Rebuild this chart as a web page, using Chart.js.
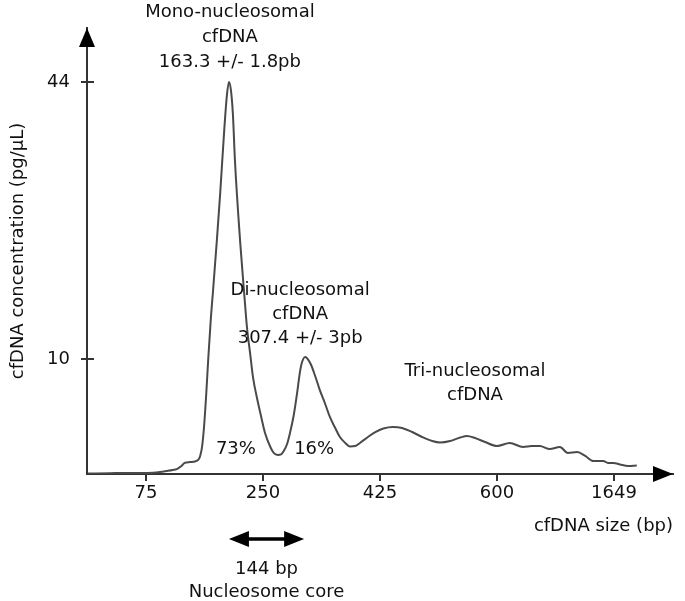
<!DOCTYPE html>
<html><head><meta charset="utf-8">
<script src="https://cdn.jsdelivr.net/npm/chart.js@4/dist/chart.umd.min.js"></script>
<style>html,body{margin:0;padding:0;background:#fff;}#wrap{width:685px;height:601px;}</style>
</head><body><div id="wrap"><canvas id="c" width="685" height="601"></canvas></div>
<script>
// ---- data ----
const sizeBp = [-12, 21, 51, 77, 96, 106, 115, 121, 127, 133, 141, 148, 153, 156, 159, 162, 165, 168, 172, 175, 181, 186, 192, 196, 199, 202, 205, 208, 216, 222, 226, 231, 235, 241, 246, 253, 261, 266, 272, 277, 281, 286, 290, 296, 301, 305, 308, 313, 317, 322, 328, 335, 343, 350, 358, 365, 373, 380, 388, 395, 407, 418, 430, 444, 458, 473, 488, 503, 515, 530, 545, 555, 567, 582, 600, 619, 639, 652, 664, 679, 694, 706, 720, 732, 744, 759, 766, 774, 784, 796, 809];
const concentration = [0.04, 0.07, 0.09, 0.09, 0.17, 0.26, 0.35, 0.43, 0.65, 0.96, 1.04, 1.09, 1.22, 1.57, 2.43, 4.26, 6.87, 9.91, 15.0, 18.1, 24.6, 30.4, 38.1, 42.4, 44.0, 43.0, 40.0, 34.4, 24.2, 17.9, 13.9, 10.5, 8.43, 6.61, 5.30, 3.57, 2.35, 1.83, 1.65, 1.70, 2.0, 2.61, 3.48, 5.13, 7.04, 8.78, 9.65, 10.25, 10.0, 9.48, 8.52, 7.30, 6.09, 4.96, 4.0, 3.22, 2.70, 2.39, 2.43, 2.70, 3.22, 3.65, 3.96, 4.09, 4.0, 3.65, 3.22, 2.87, 2.74, 2.87, 3.17, 3.30, 3.13, 2.78, 2.43, 2.70, 2.35, 2.43, 2.43, 2.17, 2.35, 1.83, 1.91, 1.57, 1.13, 1.13, 0.96, 0.96, 0.83, 0.70, 0.74];
const xTickValues = [75, 250, 425, 600, 775];
const xTickLabels = ['75', '250', '425', '600', '1649'];
const yTickValues = [10, 44];
const yTickLabels = ['10', '44'];
const xTitle = 'cfDNA size (bp)';
const yTitle = 'cfDNA concentration (pg/\u00b5L)';
const monoLabel = ['Mono-nucleosomal', 'cfDNA', '163.3 +/- 1.8pb'];
const diLabel = ['Di-nucleosomal', 'cfDNA', '307.4 +/- 3pb'];
const triLabel = ['Tri-nucleosomal', 'cfDNA'];
const shareLabels = ['73%', '16%'];
const coreLabel = ['144 bp', 'Nucleosome core'];

// ---- broken (piecewise linear) y scale as in the original figure ----
const Y_BREAK = 10, Y_TOP_TICK = 44;
const D_BREAK = 0.2578, D_TOP_TICK = 0.8789;
function valToDec(v) {
  if (v <= Y_BREAK) return v / Y_BREAK * D_BREAK;
  return D_BREAK + (v - Y_BREAK) / (Y_TOP_TICK - Y_BREAK) * (D_TOP_TICK - D_BREAK);
}
function decToVal(d) {
  if (d <= D_BREAK) return d / D_BREAK * Y_BREAK;
  return Y_BREAK + (d - D_BREAK) / (D_TOP_TICK - D_BREAK) * (Y_TOP_TICK - Y_BREAK);
}
class BrokenLinearScale extends Chart.LinearScale {
  getPixelForValue(v) { return this.getPixelForDecimal(valToDec(v)); }
  getValueForPixel(p) { return decToVal(this.getDecimalForPixel(p)); }
}
BrokenLinearScale.id = 'brokenLinear';
BrokenLinearScale.defaults = Chart.LinearScale.defaults;
Chart.register(BrokenLinearScale);

const FONT = '"DejaVu Sans", Verdana, sans-serif';
const FS = 18;
const TXT = '#111111';
const AX = '#333333';

const points = sizeBp.map((x, i) => ({x, y: concentration[i]}));
const peakIdx = concentration.indexOf(Math.max(...concentration));
const diIdx = concentration.indexOf(10.25);

const overlay = {
  id: 'overlay',
  afterDraw(chart) {
    const {ctx, chartArea: a, scales: {x, y}} = chart;
    ctx.save();
    // y ticks crossing the axis
    ctx.strokeStyle = AX; ctx.lineWidth = 2;
    yTickValues.forEach(v => {
      const py = Math.round(y.getPixelForValue(v));
      ctx.beginPath(); ctx.moveTo(a.left - 6, py); ctx.lineTo(a.left + 7, py); ctx.stroke();
    });
    // arrow heads
    ctx.fillStyle = '#000';
    ctx.beginPath(); ctx.moveTo(a.left, a.top); ctx.lineTo(a.left - 8, a.top + 19); ctx.lineTo(a.left + 8, a.top + 19); ctx.closePath(); ctx.fill();
    ctx.beginPath(); ctx.moveTo(a.right, a.bottom); ctx.lineTo(a.right - 20, a.bottom - 8); ctx.lineTo(a.right - 20, a.bottom + 8); ctx.closePath(); ctx.fill();

    // annotations
    ctx.fillStyle = TXT; ctx.font = FS + 'px ' + FONT;
    ctx.textAlign = 'center'; ctx.textBaseline = 'middle';
    const mx = x.getPixelForValue(sizeBp[peakIdx]);
    monoLabel.forEach((t, i) => ctx.fillText(t, mx + 1, 12 + i * 25));
    const dx = x.getPixelForValue(sizeBp[diIdx]);
    diLabel.forEach((t, i) => ctx.fillText(t, dx - 5, 290 + i * 24));
    triLabel.forEach((t, i) => ctx.fillText(t, 475, 371 + i * 24));
    ctx.fillText(shareLabels[0], mx + 7, 449);
    ctx.fillText(shareLabels[1], dx + 9, 449);
    // double arrow (nucleosome core span)
    const ax1 = mx, ax2 = dx - 1, ay = 539;
    ctx.strokeStyle = '#000'; ctx.lineWidth = 3.5;
    ctx.beginPath(); ctx.moveTo(ax1 + 10, ay); ctx.lineTo(ax2 - 10, ay); ctx.stroke();
    ctx.fillStyle = '#000';
    ctx.beginPath(); ctx.moveTo(ax1, ay); ctx.lineTo(ax1 + 20, ay - 8); ctx.lineTo(ax1 + 20, ay + 8); ctx.closePath(); ctx.fill();
    ctx.beginPath(); ctx.moveTo(ax2, ay); ctx.lineTo(ax2 - 20, ay - 8); ctx.lineTo(ax2 - 20, ay + 8); ctx.closePath(); ctx.fill();
    ctx.fillStyle = TXT;
    coreLabel.forEach((t, i) => ctx.fillText(t, (ax1 + ax2) / 2, 569 + i * 23));
    ctx.restore();
  }
};

new Chart(document.getElementById('c'), {
  type: 'line',
  data: {
    datasets: [{
      data: points,
      borderColor: '#4a4a4a',
      borderWidth: 2,
      pointRadius: 0,
      fill: false,
      cubicInterpolationMode: 'monotone'
    }]
  },
  options: {
    responsive: false,
    animation: false,
    devicePixelRatio: 1,
    layout: {padding: {top: 28, right: 12, left: 0, bottom: 0}},
    plugins: {legend: {display: false}, tooltip: {enabled: false}},
    scales: {
      x: {
        type: 'linear',
        min: -13.25,
        max: 863.2,
        afterFit: s => { s.height = 127; },
        afterBuildTicks: s => { s.ticks = xTickValues.map(v => ({value: v})); },
        ticks: {
          callback: (v, i) => xTickLabels[i],
          color: TXT, font: {family: FONT, size: FS}, padding: 2, maxRotation: 0, autoSkip: false
        },
        grid: {display: true, drawOnChartArea: false, drawTicks: true, tickLength: 7, color: AX, lineWidth: 2},
        border: {display: true, color: AX, width: 2},
        title: {display: true, text: xTitle, align: 'end', color: TXT, font: {family: FONT, size: FS}, padding: {top: 0, bottom: 64}}
      },
      y: {
        type: 'brokenLinear',
        min: 0,
        max: 50.63,
        afterFit: s => { s.width = 87; },
        afterBuildTicks: s => { s.ticks = yTickValues.map(v => ({value: v})); },
        ticks: {
          callback: (v, i) => yTickLabels[i],
          color: TXT, font: {family: FONT, size: FS}, padding: 17, autoSkip: false
        },
        grid: {display: false, drawTicks: false},
        border: {display: true, color: AX, width: 2},
        title: {display: true, text: yTitle, color: TXT, font: {family: FONT, size: FS}, padding: {top: 8, bottom: 0}}
      }
    }
  },
  plugins: [overlay]
});
</script>
</body></html>
